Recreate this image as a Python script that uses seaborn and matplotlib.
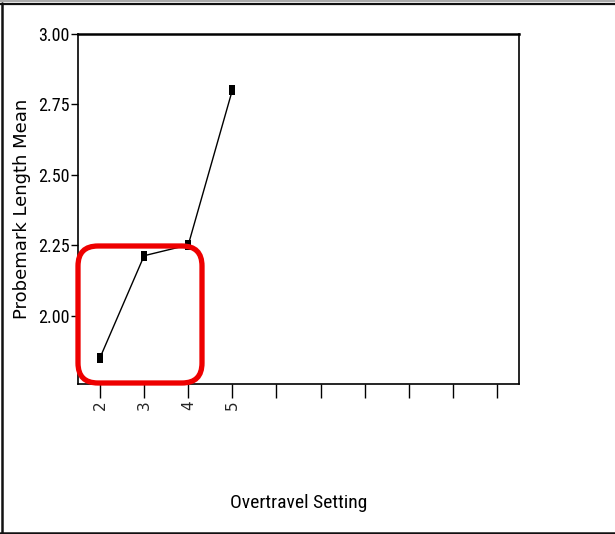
import matplotlib
matplotlib.use("Agg")
import matplotlib.pyplot as plt
import seaborn as sns
import pandas as pd
from matplotlib.patches import FancyBboxPatch
from matplotlib.lines import Line2D
from matplotlib.transforms import IdentityTransform
from matplotlib import font_manager
from matplotlib.font_manager import FontProperties

# ---- data ----
settings = ["2", "3", "4", "5"]
means = [1.851, 2.213, 2.251, 2.801]
tick_labels = ["2", "3", "4", "5", "", "", "", "", "", ""]
y_ticks = [2.00, 2.25, 2.50, 2.75, 3.00]

sns.set_style("white")
plt.rcParams["font.family"] = ["Liberation Sans", "DejaVu Sans"]


def narrow_props(size_narrow, size_plain):
    names = {f.name for f in font_manager.fontManager.ttflist}
    for fam in ["Liberation Sans Narrow", "Arial Narrow", "Roboto Condensed", "Open Sans Condensed"]:
        if fam in names:
            return FontProperties(family=[fam, "DejaVu Sans"], size=size_narrow, weight="normal")
    for fam in ["Roboto", "Open Sans"]:
        try:
            p = font_manager.findfont(FontProperties(family=fam, stretch="condensed", weight="normal"),
                                      fallback_to_default=False)
            if "ondensed" in p:
                return FontProperties(family=[fam, "DejaVu Sans"], stretch="condensed",
                                      weight="normal", size=size_narrow)
        except Exception:
            pass
    return FontProperties(family=["Liberation Sans", "DejaVu Sans"], size=size_plain)


ytick_fp = narrow_props(13, 12)
xlabel_fp = narrow_props(14, 12)

fig = plt.figure(figsize=(6.15, 5.34), dpi=100)
ax = fig.add_axes([78 / 615, 1 - 384 / 534, 441 / 615, 350 / 534])

df = pd.DataFrame({"pos": list(range(len(settings))), "mean": means})
marker = [(-0.6, -1), (0.6, -1), (0.6, 1), (-0.6, 1)]
sns.lineplot(data=df, x="pos", y="mean", ax=ax, color="black", linewidth=1.0,
             marker=marker, markersize=7.5, markeredgewidth=0, markerfacecolor="black")

ax.set_xlim(-0.5, 9.5)
ax.set_ylim(1.7575, 3.0)
ax.set_xticks(range(len(tick_labels)))
ax.set_xticklabels(tick_labels, rotation=90, fontsize=11, family=["DejaVu Sans"])
ax.set_yticks(y_ticks)
ax.set_yticklabels([f"{v:.2f}" for v in y_ticks], fontproperties=ytick_fp, color="black")
ax.tick_params(axis="x", direction="out", length=10, width=1.0, color="black", pad=2, bottom=True)
ax.tick_params(axis="y", direction="out", length=5, width=1.0, color="black", pad=1, left=True)
for s in ax.spines.values():
    s.set_color("black")
    s.set_linewidth(1.2)
ax.spines["top"].set_linewidth(1.8)

ax.set_ylabel("Probemark Length Mean", fontsize=13, family=["DejaVu Sans"], color="black")
ax.yaxis.set_label_coords(-0.106, 0.5)
ax.set_xlabel("Overtravel Setting", fontproperties=xlabel_fp, color="black")
ax.xaxis.set_label_coords(0.5, -0.315)

# red highlight box (annotation), in figure pixels
box = FancyBboxPatch((78, 534 - 383), 124, 137, boxstyle="round,pad=0,rounding_size=20",
                     transform=IdentityTransform(), fill=False, edgecolor="#ee0000",
                     linewidth=3.8, zorder=10)
fig.add_artist(box)

# outer frame lines
fig.add_artist(Line2D([0, 615], [533.5, 533.5], transform=IdentityTransform(), color="#999999", linewidth=1.2))
fig.add_artist(Line2D([0, 615], [530.5, 530.5], transform=IdentityTransform(), color="#111111", linewidth=1.6))
fig.add_artist(Line2D([2, 2], [0, 531], transform=IdentityTransform(), color="#111111", linewidth=1.8))
fig.add_artist(Line2D([0, 615], [1, 1], transform=IdentityTransform(), color="#111111", linewidth=1.8))

fig.savefig("out.png", dpi=100)
